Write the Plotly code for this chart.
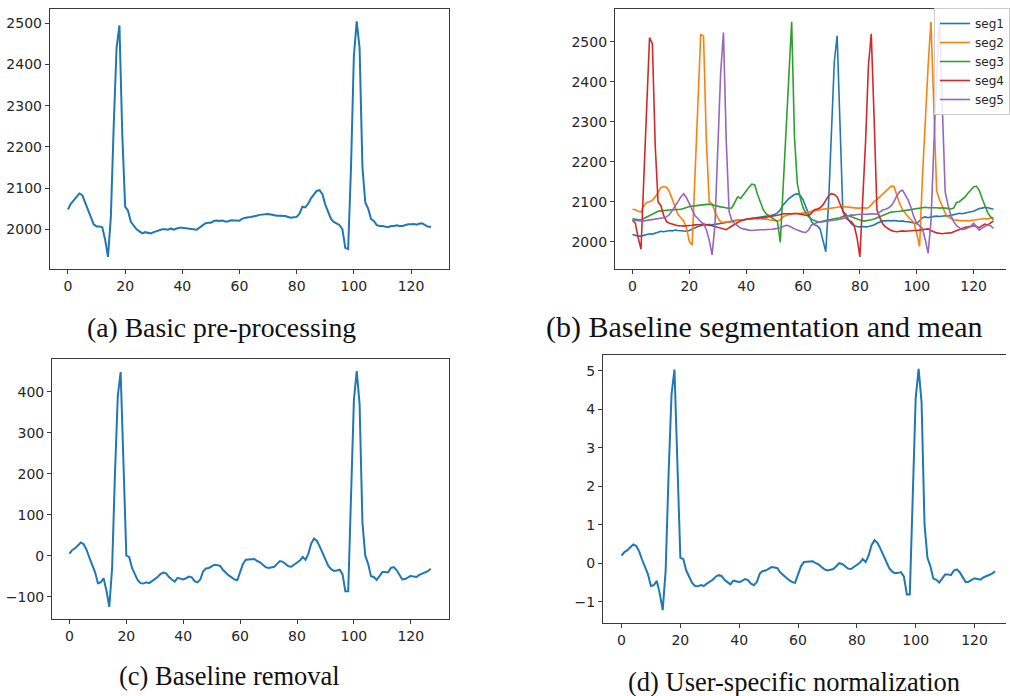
import plotly.graph_objects as go

idx = list(range(128))

basic = [2048, 2062, 2070, 2078, 2087, 2083, 2065, 2045, 2025, 2012, 2007, 2007, 2005, 1975, 1933, 2030,
         2250, 2440, 2495, 2230, 2055, 2045, 2018, 2010, 2000, 1995, 1990, 1993, 1992, 1990, 1993, 1995,
         1998, 2000, 2000, 1999, 2002, 1999, 2002, 2004, 2004, 2003, 2003, 2002, 2000, 1999, 2004, 2010,
         2014, 2016, 2016, 2020, 2021, 2020, 2021, 2019, 2019, 2022, 2022, 2021, 2021, 2026, 2028, 2029,
         2030, 2031, 2033, 2035, 2036, 2037, 2037, 2036, 2034, 2033, 2033, 2033, 2032, 2030, 2028, 2029,
         2030, 2038, 2055, 2053, 2062, 2075, 2085, 2093, 2095, 2085, 2060, 2040, 2025, 2018, 2013, 2010,
         2000, 1955, 1952, 2150, 2420, 2505, 2440, 2150, 2065, 2050, 2025, 2020, 2010, 2008, 2008, 2007,
         2005, 2008, 2008, 2010, 2008, 2008, 2010, 2012, 2012, 2013, 2011, 2014, 2014, 2010, 2006, 2006]

seg1 = [2018, 2016, 2014, 2014, 2016, 2018, 2020, 2019, 2022, 2024, 2026, 2025, 2027, 2028, 2027, 2029,
        2028, 2027, 2026, 2026, 2028, 2032, 2035, 2038, 2040, 2042, 2042, 2043, 2042, 2043, 2045, 2046,
        2047, 2048, 2050, 2052, 2053, 2054, 2054, 2055, 2056, 2057, 2058, 2060, 2061, 2062, 2063, 2063,
        2064, 2066, 2068, 2072, 2080, 2092, 2100, 2108, 2113, 2118, 2120, 2116, 2105, 2085, 2065, 2050,
        2042, 2040, 2032, 2005, 1975, 2100, 2300, 2450, 2515, 2300, 2075, 2070, 2055, 2045, 2040, 2038,
        2037, 2038, 2037, 2038, 2040, 2042, 2046, 2050, 2052, 2052, 2053, 2052, 2053, 2052, 2051, 2052,
        2050, 2050, 2049, 2047, 2045, 2052, 2060, 2062, 2060, 2062, 2063, 2064, 2063, 2064, 2065, 2064,
        2066, 2068, 2070, 2071, 2070, 2072, 2074, 2075, 2076, 2080, 2083, 2084, 2086, 2085, 2082, 2081]

seg2 = [2081, 2080, 2076, 2074, 2090, 2098, 2100, 2104, 2112, 2125, 2135, 2138, 2136, 2125, 2105, 2085,
        2068, 2060, 2052, 2035, 2000, 1992, 2170, 2350, 2518, 2514, 2250, 2100, 2095, 2075, 2060, 2050,
        2048, 2050, 2048, 2050, 2052, 2054, 2055, 2055, 2056, 2057, 2058, 2058, 2057, 2058, 2056, 2057,
        2055, 2054, 2053, 2052, 2055, 2062, 2066, 2068, 2070, 2071, 2071, 2070, 2072, 2072, 2074, 2075,
        2077, 2079, 2080, 2082, 2083, 2083, 2084, 2086, 2087, 2088, 2088, 2087, 2086, 2085, 2085, 2084,
        2084, 2085, 2084, 2085, 2092, 2100, 2105, 2112, 2118, 2126, 2134, 2139, 2138, 2115, 2095, 2080,
        2070, 2062, 2055, 2048, 2020, 1988, 2160, 2310, 2440, 2550, 2330, 2128, 2105, 2090, 2072, 2062,
        2058, 2055, 2054, 2053, 2052, 2053, 2052, 2053, 2054, 2055, 2056, 2058, 2058, 2057, 2059, 2061]

seg3 = [2057, 2056, 2055, 2054, 2058, 2062, 2066, 2070, 2073, 2076, 2077, 2078, 2079, 2079, 2080, 2080,
        2080, 2081, 2083, 2086, 2088, 2089, 2090, 2091, 2092, 2092, 2093, 2094, 2092, 2090, 2088, 2087,
        2086, 2084, 2083, 2085, 2100, 2112, 2108, 2118, 2128, 2136, 2144, 2142, 2118, 2098, 2080, 2070,
        2065, 2060, 2056, 2050, 1998, 2135, 2275, 2415, 2550, 2260, 2145, 2110, 2085, 2072, 2062, 2056,
        2052, 2050, 2050, 2052, 2054, 2055, 2056, 2057, 2058, 2060, 2063, 2066, 2065, 2062, 2060, 2057,
        2054, 2052, 2052, 2053, 2055, 2057, 2060, 2064, 2067, 2070, 2072, 2074, 2075, 2075, 2076, 2077,
        2078, 2079, 2080, 2081, 2082, 2084, 2085, 2086, 2085, 2085, 2086, 2085, 2084, 2085, 2084, 2083,
        2082, 2084, 2098, 2100, 2106, 2112, 2121, 2130, 2137, 2139, 2128, 2108, 2090, 2072, 2062, 2055]

seg4 = [2054, 2046, 2010, 1981, 2160, 2340, 2510, 2495, 2240, 2100, 2090, 2065, 2050, 2046, 2044, 2042,
        2040, 2040, 2039, 2040, 2040, 2041, 2042, 2042, 2043, 2044, 2043, 2042, 2040, 2038, 2036, 2034,
        2032, 2030, 2035, 2040, 2043, 2048, 2052, 2055, 2056, 2057, 2058, 2058, 2059, 2060, 2060, 2061,
        2062, 2063, 2064, 2066, 2068, 2070, 2070, 2070, 2071, 2071, 2070, 2069, 2068, 2066, 2065, 2072,
        2080, 2082, 2085, 2092, 2105, 2115, 2120, 2118, 2112, 2095, 2075, 2060, 2054, 2050, 2040, 2010,
        1962, 2100, 2250, 2440, 2520, 2310, 2080, 2060, 2045, 2037, 2032, 2028, 2026, 2025, 2026, 2027,
        2026, 2027, 2027, 2028, 2028, 2029, 2030, 2030, 2032, 2028, 2024, 2022, 2021, 2020, 2021, 2022,
        2022, 2025, 2028, 2032, 2034, 2036, 2037, 2038, 2040, 2038, 2035, 2040, 2044, 2042, 2048, 2052]

seg5 = [2054, 2053, 2052, 2052, 2052, 2053, 2055, 2056, 2057, 2058, 2058, 2060, 2062, 2068, 2078, 2088,
        2100, 2112, 2120, 2110, 2095, 2080, 2065, 2058, 2050, 2045, 2030, 2004, 1967, 2040, 2230, 2420,
        2523, 2250, 2075, 2052, 2045, 2040, 2034, 2032, 2030, 2029, 2028, 2029, 2029, 2030, 2030, 2030,
        2031, 2031, 2032, 2033, 2034, 2038, 2041, 2040, 2035, 2032, 2029, 2026, 2024, 2023, 2030, 2042,
        2046, 2048, 2049, 2050, 2051, 2052, 2053, 2054, 2054, 2056, 2058, 2062, 2065, 2067, 2066, 2068,
        2068, 2069, 2068, 2069, 2070, 2069, 2069, 2074, 2079, 2081, 2084, 2090, 2100, 2115, 2125, 2129,
        2118, 2104, 2085, 2062, 2046, 2040, 2033, 2005, 1971, 2050, 2250, 2420, 2550, 2330, 2125, 2092,
        2065, 2050, 2040, 2035, 2030, 2032, 2035, 2038, 2046, 2038, 2029, 2034, 2038, 2042, 2040, 2033]

removed = [5, 14, 18, 25, 32, 28, 15, -5, -22, -40, -67, -65, -55, -85, -125, -30,
           200, 390, 448, 200, 0, -3, -30, -45, -60, -67, -68, -65, -67, -62, -58, -52,
           -45, -41, -43, -52, -58, -63, -54, -56, -58, -55, -51, -53, -62, -65, -58, -38,
           -31, -30, -26, -22, -23, -25, -35, -42, -48, -53, -58, -60, -41, -20, -10, -9,
           -8, -8, -13, -16, -22, -28, -30, -29, -27, -20, -13, -15, -20, -26, -27, -22,
           -16, -12, -3, -10, 5, 30, 42, 36, 22, 5, -10, -25, -33, -37, -36, -34,
           -45, -87, -87, 150, 380, 450, 370, 80, 0, -20, -50, -52, -59, -50, -40, -40,
           -41, -30, -28, -35, -48, -58, -57, -52, -49, -51, -52, -47, -44, -42, -38, -32]

normalized = [0.20, 0.29, 0.34, 0.41, 0.49, 0.45, 0.31, 0.09, -0.10, -0.29, -0.59, -0.57, -0.46, -0.79, -1.22, -0.19,
              2.32, 4.39, 5.03, 2.32, 0.14, 0.11, -0.19, -0.35, -0.51, -0.59, -0.60, -0.57, -0.59, -0.53, -0.49, -0.43,
              -0.35, -0.31, -0.33, -0.43, -0.49, -0.55, -0.45, -0.47, -0.49, -0.46, -0.41, -0.44, -0.53, -0.57, -0.49, -0.27,
              -0.20, -0.19, -0.14, -0.10, -0.11, -0.13, -0.24, -0.32, -0.38, -0.44, -0.49, -0.51, -0.31, -0.08, 0.03, 0.04,
              0.05, 0.05, 0.00, -0.03, -0.10, -0.16, -0.19, -0.17, -0.15, -0.08, 0.00, -0.02, -0.08, -0.14, -0.15, -0.10,
              -0.03, 0.01, 0.11, 0.03, 0.20, 0.47, 0.60, 0.53, 0.38, 0.20, 0.03, -0.13, -0.22, -0.26, -0.25, -0.23,
              -0.35, -0.81, -0.81, 1.78, 4.29, 5.05, 4.18, 1.01, 0.14, -0.08, -0.40, -0.43, -0.50, -0.40, -0.29, -0.29,
              -0.31, -0.19, -0.16, -0.24, -0.38, -0.49, -0.48, -0.43, -0.39, -0.41, -0.43, -0.37, -0.34, -0.32, -0.27, -0.21]

seg_names = ["seg1", "seg2", "seg3", "seg4", "seg5"]
seg_colors = ["#1f77b4", "#ff7f0e", "#2ca02c", "#d62728", "#9467bd"]
captions = ["(a) Basic pre-processing", "(b) Baseline segmentation and mean",
            "(c) Baseline removal", "(d) User-specific normalization"]

W, H = 1010, 696


def px(x):
    return x / W


def py(y):
    return 1 - y / H


fig = go.Figure()

fig.add_trace(go.Scatter(x=idx, y=basic, mode="lines", line=dict(color="#1f77b4", width=2),
                         xaxis="x", yaxis="y", showlegend=False))
for name, col, data in zip(seg_names, seg_colors, [seg1, seg2, seg3, seg4, seg5]):
    fig.add_trace(go.Scatter(x=idx, y=data, mode="lines", name=name, line=dict(color=col, width=1.6),
                             xaxis="x2", yaxis="y2"))
fig.add_trace(go.Scatter(x=idx, y=removed, mode="lines", line=dict(color="#1f77b4", width=2),
                         xaxis="x3", yaxis="y3", showlegend=False))
fig.add_trace(go.Scatter(x=idx, y=normalized, mode="lines", line=dict(color="#1f77b4", width=2),
                         xaxis="x4", yaxis="y4", showlegend=False))

tickfont = dict(family="DejaVu Sans", size=14, color="#262626")
axcommon = dict(showgrid=False, zeroline=False, showline=True, linecolor="#3a3a3a", linewidth=1,
                ticks="outside", ticklen=4, tickcolor="#3a3a3a", tickfont=tickfont)

xt = [0, 20, 40, 60, 80, 100, 120]

panels = [
    # (x span in px, y span in px, x range, y range, y ticks)
    ((50, 451), (9, 269), [-6.35, 133.35], [1903.6, 2534.7], [2000, 2100, 2200, 2300, 2400, 2500]),
    ((617.3, W), (8.7, 269.3), [-6.2, 131.4], [1931, 2582.5], [2000, 2100, 2200, 2300, 2400, 2500]),
    ((52.3, 450.7), (359.3, 618.7), [-6.1, 133.4], [-153.7, 479], [-100, 0, 100, 200, 300, 400]),
    ((605.3, W), (355, 622.7), [-6.33, 130.7], [-1.545, 5.41], [-1, 0, 1, 2, 3, 4, 5]),
]

layout = {}
for k, (xd, yd, xr, yr, yt) in enumerate(panels):
    sfx = "" if k == 0 else str(k + 1)
    right_open = xd[1] >= W
    layout["xaxis" + sfx] = dict(axcommon, domain=[px(xd[0]), px(xd[1])], range=xr, tickvals=xt,
                                 anchor="y" + sfx, mirror=True)
    layout["yaxis" + sfx] = dict(axcommon, domain=[py(yd[1]), py(yd[0])], range=yr, tickvals=yt,
                                 anchor="x" + sfx, mirror=not right_open)

ann = []
for text, (cx, cy), fs in zip(captions, [(222, 327), (768, 327), (230, 676), (797, 682)],
                               [27.7, 30, 26.5, 26.5]):
    ann.append(dict(text=text, x=px(cx), y=py(cy), xref="paper", yref="paper", showarrow=False,
                    xanchor="center", yanchor="middle",
                    font=dict(family="Liberation Serif", size=fs, color="#111111")))

fig.update_layout(
    width=W, height=H, margin=dict(l=0, r=0, t=0, b=0),
    paper_bgcolor="white", plot_bgcolor="white",
    annotations=ann,
    legend=dict(x=px(938), y=py(8), xanchor="left", yanchor="top",
                bgcolor="rgba(255,255,255,0.85)", bordercolor="#cccccc", borderwidth=1,
                font=dict(family="DejaVu Sans", size=12, color="#262626"), itemwidth=30,
                tracegroupgap=0),
    **layout,
)

fig.write_html("out.html", config={"displayModeBar": False},
               post_script="document.body.style.margin='0';document.body.style.overflow='hidden';")
